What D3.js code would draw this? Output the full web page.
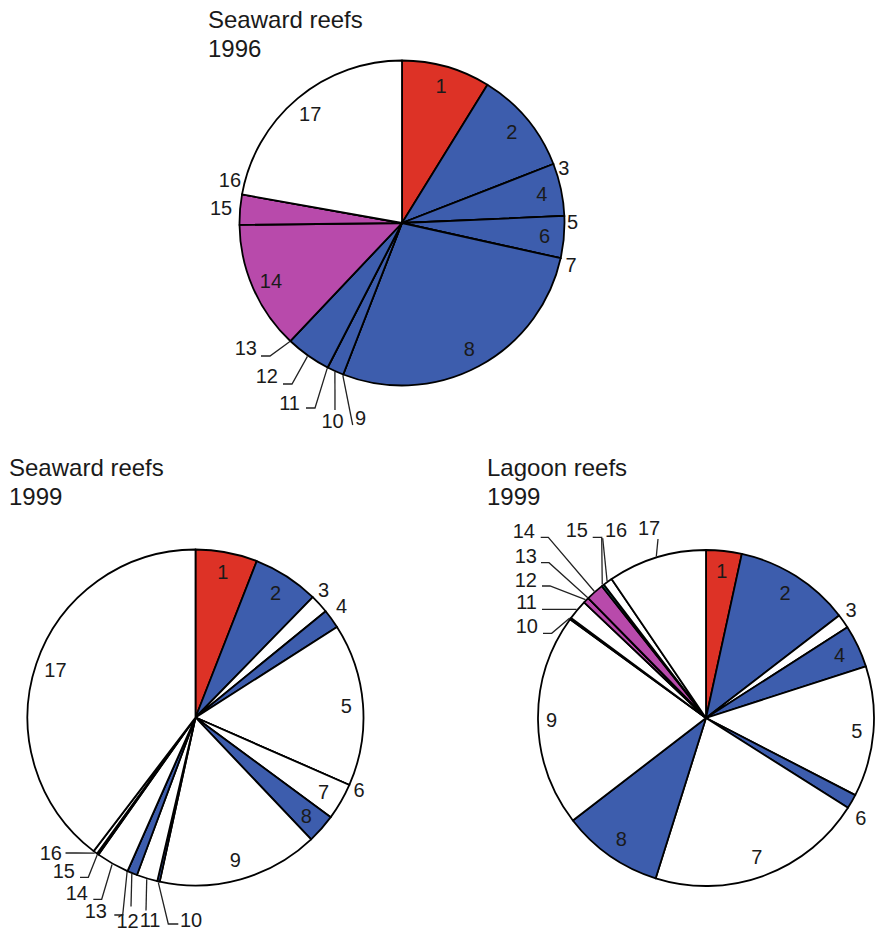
<!DOCTYPE html>
<html>
<head>
<meta charset="utf-8">
<script src="https://cdn.jsdelivr.net/npm/d3@7"></script>
<style>
  html, body { margin: 0; padding: 0; background: #fff; }
  svg { display: block; font-family: "Liberation Sans", Arial, Helvetica, sans-serif; }
</style>
</head>
<body>
<svg id="chart" width="876" height="934"></svg>
<script>
// Category numbers 1-17, shared by all three pies
const categories = ["1","2","3","4","5","6","7","8","9","10","11","12","13","14","15","16","17"];

// Percentage cover per category
const seaward1996 = [8.81, 10.28, 0, 5.22, 0, 4.17, 0, 27.42, 0, 1.67, 0, 4.50, 0, 12.75, 3.00, 0, 22.19];
const seaward1999 = [5.94, 6.36, 1.81, 1.83, 15.64, 0, 3.53, 2.81, 15.50, 0.24, 2.01, 0.97, 0, 3.17, 0.16, 0.40, 39.64];
const lagoon1999  = [3.42, 11.14, 1.36, 4.11, 12.56, 1.39, 20.86, 9.72, 20.44, 0.16, 1.92, 0.56, 0, 1.72, 0.24, 0.90, 9.50];

// Group code of each category in each pie
const groups1996      = ["a","b","b","b","b","b","b","b","b","b","b","b","b","c","c","o","o"];
const groupsSea1999   = ["a","b","o","b","o","o","o","b","o","b","o","b","o","o","c","o","o"];
const groupsLagoon1999= ["a","b","o","b","o","b","o","b","o","c","o","c","o","c","d","o","o"];

const colour = d3.scaleOrdinal()
  .domain(["a", "b", "c", "d", "o"])
  .range(["#dd3226", "#3d5dad", "#b84aab", "#148a7f", "#ffffff"]);

const svg = d3.select("#chart");
const pie = d3.pie().sort(null).value(d => d.v);
const rad = deg => deg * Math.PI / 180;
const polar = (a, r) => [Math.sin(a) * r, -Math.cos(a) * r];
const LABEL_SIZE = 20;

// Placement of each pie and its labels
const layouts = [
  {
    title: ["Seaward reefs", "1996"], tx: 208, ty: 28,
    values: seaward1996, groups: groups1996,
    cx: 402, cy: 223, r: 162.5,
    inside: {},
    outside: { "3": [2.4, 171], "5": [2, 170.5], "7": [1.3, 174], "15": [0.2, 181.6], "16": [4, 177.4] },
    leaders: {
      "9":  { t: [-47, 202],   anchor: "start",  pts: [[-49.3, 202]] },
      "10": { t: [-69.5, 205], anchor: "middle", pts: [[-67, 187]] },
      "11": { t: [-102, 187],  anchor: "end",    pts: [[-96, 185], [-87, 185]] },
      "12": { t: [-124, 160],  anchor: "end",    pts: [[-119, 161], [-110, 161]] },
      "13": { t: [-145, 132],  anchor: "end",    pts: [[-141, 133], [-132, 133]] }
    }
  },
  {
    title: ["Seaward reefs", "1999"], tx: 9, ty: 476,
    values: seaward1999, groups: groupsSea1999,
    cx: 195.5, cy: 717.5, r: 168,
    inside: { "5": 0.9 },
    outside: { "3": [-2.5, 181], "4": [-1.6, 184], "6": [0.3, 179] },
    leaders: {
      "10": { t: [-15.5, 209.2], anchor: "start",  pts: [[-17.2, 206.5], [-27.2, 206.5]] },
      "11": { t: [-45.5, 209.2], anchor: "middle", pts: [[-49.5, 193]] },
      "12": { t: [-68, 210.5],   anchor: "middle", pts: [[-64.5, 189]] },
      "13": { t: [-88.5, 200.5], anchor: "end",    pts: [[-81.2, 197.5], [-72.8, 197.5]] },
      "14": { t: [-107.5, 182.5],anchor: "end",    pts: [[-102.2, 181.8], [-93.8, 181.8]] },
      "15": { t: [-120.5, 160.5],anchor: "end",    pts: [[-115.5, 159.8], [-107.2, 159.8]] },
      "16": { t: [-133.5, 142.5],anchor: "end",    pts: [[-130, 135.5], [-119.5, 135.5]] }
    }
  },
  {
    title: ["Lagoon reefs", "1999"], tx: 487, ty: 476,
    values: lagoon1999, groups: groupsLagoon1999,
    cx: 706, cy: 718, r: 168,
    inside: { "9": 0.92, "5": 0.9 },
    outside: { "3": [-1.6, 181], "6": [2.9, 184] },
    leaders: {
      "10": { t: [-168, -85],  anchor: "end",    pts: [[-163, -84.7], [-154.3, -84.7]] },
      "11": { t: [-169, -109], anchor: "end",    pts: [[-164, -108.7]] },
      "12": { t: [-169, -131], anchor: "end",    pts: [[-164, -132], [-156, -132]] },
      "13": { t: [-169, -155], anchor: "end",    pts: [[-165, -155.3], [-157, -155.3]] },
      "14": { t: [-171, -180], anchor: "end",    pts: [[-165.3, -180.7], [-157.7, -180.7]] },
      "15": { t: [-118, -181], anchor: "end",    pts: [[-113.3, -180.7], [-104.3, -180.7]] },
      "16": { t: [-101, -181], anchor: "start",  pts: [[-103.3, -179.7]] },
      "17": { t: [-57, -183],  anchor: "middle", pts: [[-48, -179]] }
    }
  }
];

function drawPie(cfg) {
  // Title, two lines
  const title = svg.append("text")
    .attr("x", cfg.tx).attr("y", cfg.ty)
    .attr("font-size", 24).attr("fill", "#1a1a1a");
  title.append("tspan").attr("x", cfg.tx).text(cfg.title[0]);
  title.append("tspan").attr("x", cfg.tx).attr("dy", 28.5).text(cfg.title[1]);

  const g = svg.append("g").attr("transform", `translate(${cfg.cx},${cfg.cy})`);
  const rows = categories.map((c, i) => ({ cat: c, v: cfg.values[i], grp: cfg.groups[i] }));
  const arcs = pie(rows);
  const arc = d3.arc().innerRadius(0).outerRadius(cfg.r);

  g.selectAll("path.slice")
    .data(arcs)
    .join("path")
    .attr("class", "slice")
    .attr("d", arc)
    .attr("fill", d => colour(d.data.grp))
    .attr("stroke", "#000")
    .attr("stroke-width", 1.8)
    .attr("stroke-linejoin", "round");

  const line = d3.line();
  arcs.forEach(d => {
    const cat = d.data.cat;
    const mid = (d.startAngle + d.endAngle) / 2;
    const lead = cfg.leaders[cat];
    const out = cfg.outside[cat];
    if (lead) {
      const end = polar(mid, cfg.r + 1);
      g.append("path")
        .attr("d", line(lead.pts.concat([end])))
        .attr("fill", "none")
        .attr("stroke", "#222")
        .attr("stroke-width", 1.3);
      g.append("text")
        .attr("x", lead.t[0]).attr("y", lead.t[1])
        .attr("text-anchor", lead.anchor)
        .attr("font-size", LABEL_SIZE).attr("fill", "#1a1a1a")
        .text(cat);
    } else if (out) {
      const [x, y] = polar(mid + rad(out[0]), out[1]);
      g.append("text")
        .attr("x", x).attr("y", y).attr("dy", "0.36em")
        .attr("text-anchor", "middle")
        .attr("font-size", LABEL_SIZE).attr("fill", "#1a1a1a")
        .text(cat);
    } else if (d.data.v > 0) {
      const f = cfg.inside[cat] || 0.88;
      const [x, y] = polar(mid, cfg.r * f);
      g.append("text")
        .attr("x", x).attr("y", y).attr("dy", "0.36em")
        .attr("text-anchor", "middle")
        .attr("font-size", LABEL_SIZE).attr("fill", "#1a1a1a")
        .text(cat);
    }
  });
}

layouts.forEach(drawPie);
</script>
</body>
</html>
